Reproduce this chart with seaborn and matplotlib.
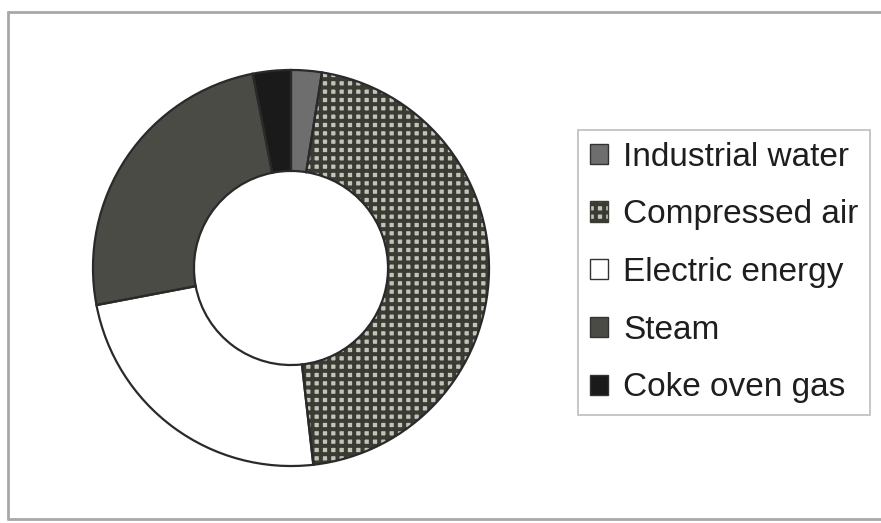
import matplotlib
matplotlib.use("Agg")
import matplotlib.pyplot as plt
import seaborn as sns
from matplotlib.patches import Patch
from matplotlib.lines import Line2D

sns.set_theme(style="white")
plt.rcParams['font.family'] = ['Liberation Sans', 'DejaVu Sans']
plt.rcParams['hatch.linewidth'] = 2.9

categories = ["Industrial water", "Compressed air", "Electric energy", "Steam", "Coke oven gas"]
shares = [2.5, 45.7, 23.8, 24.9, 3.1]

faces = ["#6e6e6e", "#c2c4b9", "#ffffff", "#4a4b44", "#1a1a1a"]
hatch_cols = ["#6e6e6e", "#3a3c34", "#ffffff", "#4a4b44", "#1a1a1a"]
hatches = [None, "++", None, None, None]

W, H = 881, 523
fig = plt.figure(figsize=(W / 100, H / 100), dpi=100)
fig.patch.set_facecolor("white")

cx, cy, R = 291, 268, 200
ax = fig.add_axes([(cx - R) / W, (H - cy - R) / H, 2 * R / W, 2 * R / H])

wedges, _ = ax.pie(shares, startangle=90, counterclock=False, radius=1.0,
                   colors=faces, wedgeprops=dict(width=0.51, linewidth=0))
for w, h, hc in zip(wedges, hatches, hatch_cols):
    if h:
        w.set_hatch(h)
        w.set_edgecolor(hc)
        w.set_linewidth(0)
# outlines
outl, _ = ax.pie(shares, startangle=90, counterclock=False, radius=1.0,
                 colors=["none"] * len(shares),
                 wedgeprops=dict(width=0.51, linewidth=1.6, edgecolor="#2a2a2a", fill=False))
ax.set_xlim(-1.01, 1.01)
ax.set_ylim(-1.01, 1.01)
ax.set_aspect("equal")
ax.axis("off")

handles = []
for f, h, hc in zip(faces, hatches, hatch_cols):
    handles.append(Patch(facecolor=f, edgecolor="#333333" if h is None else hc,
                         hatch=h, linewidth=1.0))
leg = fig.legend(handles, categories, loc="upper left",
                 bbox_to_anchor=(578 / W, 1 - 130 / H), borderaxespad=0,
                 fontsize=24, frameon=True, fancybox=False, framealpha=1,
                 edgecolor="#bdbdbd", handlelength=0.55, handleheight=0.55,
                 handletextpad=0.45, labelspacing=0.8, borderpad=0.35,
                 labelcolor="#1e1e1e")
leg.get_frame().set_linewidth(1.2)

# outer figure frame
x0, y0, y1 = 8 / W, 4 / H, 1 - 12 / H
fig.add_artist(Line2D([x0, 1.0], [y1, y1], color="#a8a8a8", lw=2, transform=fig.transFigure))
fig.add_artist(Line2D([x0, x0], [y0, y1], color="#a8a8a8", lw=2, transform=fig.transFigure))
fig.add_artist(Line2D([x0, 1.0], [y0, y0], color="#a8a8a8", lw=2, transform=fig.transFigure))

fig.savefig("out.png", dpi=100)
